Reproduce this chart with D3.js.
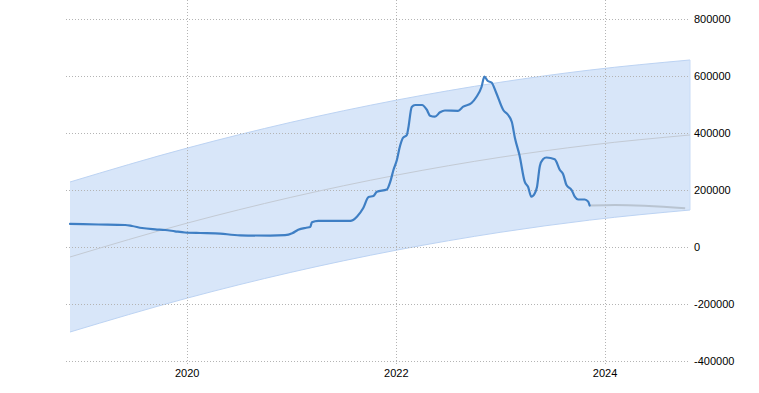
<!DOCTYPE html>
<html>
<head>
<meta charset="utf-8">
<script src="https://cdn.jsdelivr.net/npm/d3@7"></script>
<style>
html,body{margin:0;padding:0;background:#fff;}
svg{display:block;}
text{font-family:"Liberation Sans",Arial,sans-serif;font-size:11px;fill:#000;}
</style>
</head>
<body>
<svg id="chart" width="759" height="393"></svg>
<script>
// Main series (date, value)
const seriesDates = ["2018-11-17","2019-02-24","2019-05-29","2019-06-22","2019-07-27","2019-09-11","2019-10-16","2019-11-19","2019-12-24","2020-02-15","2020-04-08","2020-07-04","2020-10-17","2020-12-08","2021-01-02","2021-01-23","2021-02-20","2021-03-06","2021-03-12","2021-04-03","2021-07-24","2021-08-03","2021-08-17","2021-09-07","2021-09-26","2021-10-13","2021-10-25","2021-11-29","2021-12-11","2021-12-22","2022-01-03","2022-01-14","2022-01-24","2022-02-07","2022-02-12","2022-02-24","2022-03-08","2022-04-01","2022-04-17","2022-04-29","2022-05-16","2022-06-03","2022-06-20","2022-08-05","2022-08-23","2022-09-21","2022-10-08","2022-10-26","2022-11-05","2022-11-17","2022-11-30","2022-12-17","2023-01-10","2023-01-27","2023-02-09","2023-02-20","2023-03-08","2023-03-26","2023-04-07","2023-04-18","2023-04-30","2023-05-08","2023-05-18","2023-05-29","2023-06-10","2023-07-09","2023-07-27","2023-08-07","2023-08-19","2023-09-06","2023-09-17","2023-09-29","2023-10-22","2023-11-03","2023-11-08"];
const seriesValues = [81000,79000,77200,73700,66700,62100,59600,55100,50900,49100,48100,41100,40000,41400,48100,60700,67700,70200,86700,91900,91900,94700,107000,135800,175400,179000,194000,201800,229100,270200,305300,354400,382500,393000,417500,491200,498200,498200,482500,460700,457200,472600,478900,477900,492300,505300,526300,561400,597600,582500,577200,539300,480700,463200,438600,381400,321100,229100,210500,176500,187700,210500,284200,307700,314000,307700,270200,256100,217500,200000,176500,166700,166700,159000,145600];

// Forecast continuation
const forecastDates = ["2023-11-08","2024-02-05","2024-10-07"];
const forecastValues = [145600,147400,135800];

// Trend line and band
const bandDates = ["2018-11-17","2020-01-01","2020-12-26","2022-01-04","2022-12-30","2023-11-08","2024-10-24"];
const trendValues = [-35100,83900,173700,252600,314700,357500,393000];
const bandUpper = [228100,347100,436900,515800,577900,620700,656200];
const bandLower = [-298300,-179300,-89500,-10600,51500,94300,129800];

const yTicks = [-400000,-200000,0,200000,400000,600000,800000];
const xTickLabels = ["2020","2022","2024"];

const parse = d3.timeParse("%Y-%m-%d");
const svg = d3.select("#chart");

const x = d3.scaleTime()
  .domain([parse("2018-11-17"), parse("2024-10-24")])
  .range([70, 690]);
const y = d3.scaleLinear()
  .domain([-400000, 800000])
  .range([361, 19]);

const series = seriesDates.map((d,i)=>({d:parse(d), v:seriesValues[i]}));
const forecast = forecastDates.map((d,i)=>({d:parse(d), v:forecastValues[i]}));
const band = bandDates.map((d,i)=>({d:parse(d), t:trendValues[i], u:bandUpper[i], l:bandLower[i]}));

// Band
svg.append("path")
  .datum(band)
  .attr("d", d3.area().x(p=>x(p.d)).y0(p=>y(p.l)).y1(p=>y(p.u)).curve(d3.curveMonotoneX))
  .attr("fill", "#d8e6f9");
["u","l"].forEach(k=>{
  svg.append("path").datum(band)
    .attr("d", d3.line().x(p=>x(p.d)).y(p=>y(p[k])).curve(d3.curveMonotoneX))
    .attr("fill","none").attr("stroke","#bcd3f3").attr("stroke-width",1);
});
const last = band[band.length-1];
svg.append("line")
  .attr("x1", x(last.d)).attr("x2", x(last.d))
  .attr("y1", y(last.u)).attr("y2", y(last.l))
  .attr("stroke","#c9dcf6").attr("stroke-width",1);

// Grid lines
const grid = svg.append("g");
grid.selectAll("line.h").data(yTicks).enter().append("line")
  .attr("x1", 66).attr("x2", 690)
  .attr("y1", d=>Math.round(y(d))+0.5).attr("y2", d=>Math.round(y(d))+0.5)
  .attr("stroke","#b4b4b4").attr("stroke-dasharray","1,2").attr("stroke-width",1);
grid.selectAll("line.v").data(xTickLabels).enter().append("line")
  .attr("x1", d=>Math.round(x(parse(d+"-01-01")))+0.5)
  .attr("x2", d=>Math.round(x(parse(d+"-01-01")))+0.5)
  .attr("y1", 0).attr("y2", 365)
  .attr("stroke","#b4b4b4").attr("stroke-dasharray","1,2").attr("stroke-width",1);

// Trend line
svg.append("path").datum(band)
  .attr("d", d3.line().x(p=>x(p.d)).y(p=>y(p.t)).curve(d3.curveMonotoneX))
  .attr("fill","none").attr("stroke","#c3cad4").attr("stroke-width",1);

// Forecast line
svg.append("path").datum(forecast)
  .attr("d", d3.line().x(p=>x(p.d)).y(p=>y(p.v)).curve(d3.curveMonotoneX))
  .attr("fill","none").attr("stroke","#b9c4d1").attr("stroke-width",2);

// Main line
svg.append("path").datum(series)
  .attr("d", d3.line().x(p=>x(p.d)).y(p=>y(p.v)).curve(d3.curveMonotoneX))
  .attr("fill","none").attr("stroke","#3f7fc4").attr("stroke-width",2.2)
  .attr("stroke-linejoin","round").attr("stroke-linecap","round");

// Y axis labels
svg.append("g").selectAll("text").data(yTicks).enter().append("text")
  .attr("x", 694).attr("y", d=>y(d))
  .attr("dy","0.35em")
  .text(d=>String(d));

// X axis labels
svg.append("g").selectAll("text").data(xTickLabels).enter().append("text")
  .attr("x", d=>x(parse(d+"-01-01"))).attr("y", 373)
  .attr("dy","0.35em").attr("text-anchor","middle")
  .text(d=>d);
</script>
</body>
</html>
